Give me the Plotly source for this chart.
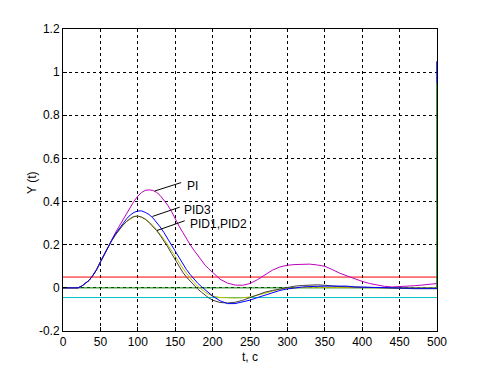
import plotly.graph_objects as go

t = [0, 10, 20, 25, 30, 35, 40, 45, 50, 55, 60, 65, 70, 75, 80, 85, 90, 95, 100,
     105, 110, 115, 120, 125, 130, 135, 140, 145, 150, 155, 160, 165, 170, 175,
     180, 185, 190, 195, 200, 210, 220, 230, 240, 250, 260, 270, 280, 290, 300,
     310, 320, 330, 340, 350, 360, 370, 380, 390, 400, 410, 420, 430, 440, 450,
     460, 470, 480, 490, 500]

early = [0, 0, 0, 0.008, 0.02, 0.035, 0.058, 0.085, 0.12, 0.155, 0.19]

pid3 = early + [0.22, 0.25, 0.275, 0.30, 0.32, 0.338, 0.35, 0.356,
                0.357, 0.35, 0.34, 0.325, 0.305, 0.282, 0.256, 0.228, 0.198, 0.168, 0.138, 0.11,
                0.085, 0.062, 0.04, 0.022, 0.006, -0.01, -0.024, -0.038, -0.06, -0.073, -0.073,
                -0.066, -0.057, -0.045, -0.033, -0.022, -0.012, -0.005, 0.0, 0.004, 0.006,
                0.008, 0.008, 0.008, 0.008, 0.008, 0.004, 0.003, 0.003, 0.002, -0.001, -0.002,
                -0.002, -0.002, -0.002, -0.002, -0.002, -0.002]

pid1 = early + [0.218, 0.245, 0.268, 0.29, 0.308, 0.322, 0.331, 0.333,
                0.328, 0.318, 0.303, 0.286, 0.266, 0.243, 0.218, 0.19, 0.16, 0.13, 0.1, 0.073,
                0.05, 0.03, 0.012, -0.005, -0.02, -0.035, -0.047, -0.057, -0.068, -0.07, -0.067,
                -0.058, -0.045, -0.032, -0.02, -0.012, -0.005, 0.003, 0.008, 0.011, 0.013,
                0.014, 0.012, 0.008, 0.006, 0.005, 0.004, 0.003, 0.002, 0.0, -0.003, -0.004,
                -0.004, -0.004, -0.004, -0.004, -0.004, -0.004]

pid2 = early + [0.218, 0.245, 0.268, 0.29, 0.307, 0.32, 0.33, 0.332,
                0.328, 0.32, 0.306, 0.29, 0.27, 0.25, 0.225, 0.2, 0.172, 0.145, 0.118, 0.092,
                0.068, 0.045, 0.025, 0.008, -0.008, -0.02, -0.03, -0.038, -0.045, -0.047, -0.047,
                -0.046, -0.042, -0.034, -0.024, -0.014, -0.006, -0.002, 0.001, 0.002, 0.003,
                0.003, 0.003, 0.002, 0.002, 0.002, 0.002, 0.001, 0.001, 0.0, 0.0, 0.0,
                -0.001, -0.001, 0.0, 0.0, 0.0, 0.0]

pi_ = early + [0.225, 0.255, 0.285, 0.315, 0.345, 0.375, 0.402, 0.425,
               0.442, 0.452, 0.454, 0.452, 0.443, 0.428, 0.408, 0.383, 0.355, 0.318, 0.287, 0.258,
               0.228, 0.2, 0.175, 0.15, 0.125, 0.105, 0.088, 0.072, 0.04, 0.022, 0.013,
               0.012, 0.02, 0.038, 0.062, 0.082, 0.097, 0.105, 0.108, 0.11, 0.11,
               0.106, 0.1, 0.085, 0.068, 0.055, 0.042, 0.03, 0.02, 0.012, 0.007, 0.004,
               0.005, 0.006, 0.01, 0.013, 0.017, 0.02]

band_t = [0, 500]
upper_band = [0.05, 0.05]
zero_line = [0, 0]
lower_band = [-0.045, -0.045]

edge_t = [500, 500]
edge_green = [0, 0.95]
edge_blue = [0.95, 1.05]

labels = ["PI", "PID3", "PID1,PID2"]
label_tip_t = [122.6, 119.5, 125.7]
label_tip_y = [0.449, 0.331, 0.266]
label_end_t = [158, 156, 162.7]
label_end_y = [0.488, 0.374, 0.311]
label_t = [163, 159, 167]
label_y = [0.472, 0.36, 0.297]

x_ticks = list(range(0, 501, 50))
y_ticks = [-0.2, 0, 0.2, 0.4, 0.6, 0.8, 1, 1.2]
y_tick_text = ["-0.2", "0", "0.2", "0.4", "0.6", "0.8", "1", "1.2"]

x_title = "t, c"
y_title = "Y (t)"

FONT = "Liberation Sans, Arial"

fig = go.Figure()

def line(x, y, color, width=1.0):
    fig.add_trace(go.Scatter(x=x, y=y, mode="lines", line=dict(color=color, width=width),
                             showlegend=False, hoverinfo="skip", cliponaxis=False))

line(band_t, upper_band, "#ff0000")
line(band_t, zero_line, "#008000")
line(band_t, lower_band, "#00bfbf")
line(t, pi_, "#bf00bf")
line(t, pid2, "#bfbf00")
line(t, pid1, "#404040")
line(t, pid3, "#0000ff")
line(edge_t, edge_green, "#008000", 1.5)
line(edge_t, edge_blue, "#0000ff", 1.5)

for i in range(len(labels)):
    line([label_tip_t[i], label_end_t[i]], [label_tip_y[i], label_end_y[i]], "#000000", 1)
    fig.add_annotation(x=label_t[i], y=label_y[i], text=labels[i], showarrow=False,
                       xanchor="left", yanchor="middle",
                       font=dict(family=FONT, size=12, color="black"))

fig.add_annotation(xref="paper", yref="paper", x=0.5, y=-0.085, text=x_title,
                   showarrow=False, xanchor="center", yanchor="middle",
                   font=dict(family=FONT, size=12, color="black"))
fig.add_annotation(xref="paper", yref="paper", x=-0.083, y=0.49, text=y_title,
                   showarrow=False, xanchor="center", yanchor="middle", textangle=-90,
                   font=dict(family=FONT, size=12, color="black"))

axis_common = dict(showline=True, linecolor="black", linewidth=1, mirror=True,
                   showgrid=True, gridcolor="black", griddash="3px,3px", gridwidth=1,
                   zeroline=False, ticks="inside", ticklen=4, tickcolor="black",
                   automargin=False,
                   tickfont=dict(family=FONT, size=12, color="black"))

fig.update_xaxes(range=[0, 500], tickvals=x_ticks, **axis_common)
fig.update_yaxes(range=[-0.2, 1.2], tickvals=y_ticks, ticktext=y_tick_text, **axis_common)

fig.update_layout(width=484, height=373, margin=dict(l=63, r=47, t=29, b=42),
                  paper_bgcolor="white", plot_bgcolor="white", showlegend=False)

fig.write_html("out.html", config={"displayModeBar": False},
               post_script="document.body.style.margin='0';document.body.style.padding='0';")
